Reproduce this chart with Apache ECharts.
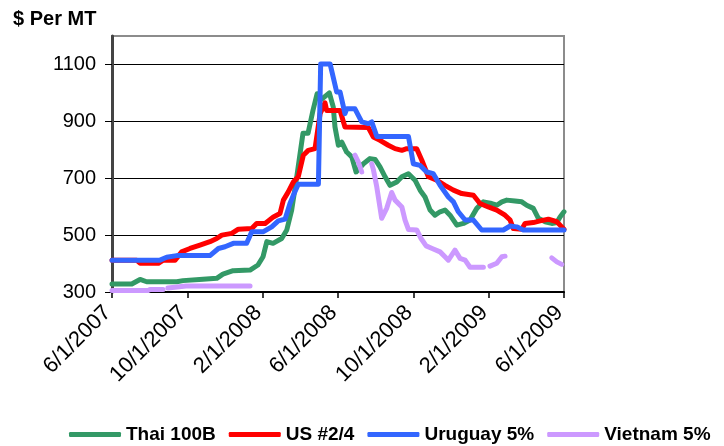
<!DOCTYPE html>
<html>
<head>
<meta charset="utf-8">
<script src="https://cdn.jsdelivr.net/npm/echarts@6/dist/echarts.min.js"></script>
<style>
  html, body { margin: 0; padding: 0; background: #fff; }
  #chart { width: 724px; height: 446px; }
</style>
</head>
<body>
<div id="chart"></div>
<script>
// x = months since 6/1/2007, y = $ per MT
var xLabels = ['6/1/2007', '10/1/2007', '2/1/2008', '6/1/2008', '10/1/2008', '2/1/2009', '6/1/2009'];
var yTicks = [300, 500, 700, 900, 1100];
var seriesNames = ['Thai 100B', 'US #2/4', 'Uruguay 5%', 'Vietnam 5%'];

var thai = [
  [0, 328], [1.05, 328], [1.49, 344], [1.84, 336], [3.44, 336], [3.77, 340], [4.83, 345],
  [5.56, 348], [5.89, 363], [6.43, 375], [7.33, 377], [7.75, 395], [8.02, 424], [8.22, 477],
  [8.55, 471], [9.01, 488], [9.28, 518], [9.54, 588], [9.81, 705], [10.14, 858], [10.41, 858],
  [10.67, 938], [10.89, 997], [11.14, 978], [11.54, 1000], [11.75, 950], [11.84, 880],
  [12.02, 816], [12.2, 827], [12.46, 792], [12.73, 775], [12.96, 722], [13.35, 751],
  [13.7, 769], [13.97, 766], [14.23, 740], [14.5, 705], [14.76, 675], [15.12, 687],
  [15.39, 705], [15.74, 716], [16.09, 693], [16.36, 658], [16.62, 634], [16.89, 588],
  [17.15, 570], [17.42, 582], [17.68, 588], [17.95, 570], [18.31, 535], [18.66, 541],
  [19.01, 553], [19.37, 594], [19.72, 617], [20.16, 611], [20.43, 605], [20.7, 617],
  [20.96, 623], [21.4, 620], [21.76, 617], [22.02, 605], [22.37, 594], [22.64, 559],
  [23.0, 547], [23.35, 541], [23.62, 544], [23.79, 564], [24, 582]
];

var us = [
  [0, 412], [1.31, 412], [1.49, 401], [2.46, 401], [2.72, 412], [3.35, 412], [3.7, 441],
  [4.14, 453], [4.67, 465], [5.2, 477], [5.56, 488], [5.83, 500], [6.36, 506], [6.71, 521],
  [7.42, 523], [7.68, 541], [8.13, 541], [8.57, 564], [8.92, 576], [9.1, 623], [9.36, 652],
  [9.63, 687], [9.89, 705], [10.16, 781], [10.42, 798], [10.78, 804], [11.05, 927],
  [11.31, 965], [11.4, 938], [12.11, 938], [12.37, 880], [13.61, 878], [13.88, 845],
  [14.23, 833], [14.67, 816], [15.03, 804], [15.39, 798], [15.65, 804], [16.18, 804],
  [16.45, 763], [16.8, 705], [17.24, 693], [17.68, 675], [18.13, 658], [18.57, 646],
  [19.19, 640], [19.54, 611], [19.98, 599], [20.43, 588], [20.87, 570], [21.14, 553],
  [21.31, 523], [21.76, 521], [21.93, 541], [22.37, 544], [22.73, 550], [23.17, 556],
  [23.62, 547], [23.88, 529], [24, 521]
];

var uruguay = [
  [0, 412], [2.55, 412], [2.9, 422], [3.44, 428], [5.2, 428], [5.65, 453], [6.0, 459],
  [6.44, 471], [7.15, 471], [7.42, 512], [8.04, 512], [8.48, 529], [8.83, 550], [9.19, 556],
  [9.45, 611], [9.63, 640], [9.89, 679], [10.96, 679], [11.08, 1102], [11.58, 1102],
  [11.93, 1003], [12.11, 1003], [12.37, 927], [12.46, 944], [12.9, 944], [13.26, 898],
  [13.61, 892], [13.79, 898], [14.06, 847], [15.74, 847], [16.0, 751], [16.36, 745],
  [16.71, 722], [17.06, 716], [17.42, 675], [17.86, 634], [18.13, 617], [18.39, 582],
  [18.75, 553], [19.19, 553], [19.63, 518], [20.78, 518], [21.14, 532], [21.49, 529],
  [21.84, 518], [24, 518]
];

var vietnam = [
  [0, 305], [1.91, 305], [2.02, 309], [2.71, 309], [2.84, '-'], [2.97, 314], [3.93, 321],
  [7.33, 321], [10, '-'], [12.9, 781], [13.08, 757], [13.26, 722], [13.5, '-'],
  [13.79, 751], [13.88, 730], [14.06, 669], [14.32, 559], [14.59, 595], [14.85, 650],
  [15.03, 623], [15.39, 599], [15.56, 553], [15.74, 520], [16.18, 518], [16.41, 488],
  [16.68, 462], [17.0, 453], [17.42, 441], [17.68, 424], [17.86, 412], [18.21, 447],
  [18.48, 418], [18.75, 412], [19.01, 387], [19.72, 387], [19.9, '-'], [20.07, 391],
  [20.43, 401], [20.7, 424], [20.87, 426], [22, '-'], [23.35, 420], [23.62, 406], [23.88, 397]
];

var colors = ['#339966', '#FF0000', '#3366FF', '#CC99FF'];
var fontFamily = '"Liberation Sans", Arial, sans-serif';

var chart = echarts.init(document.getElementById('chart'));

function lineSeries(name, data, color) {
  return {
    name: name,
    type: 'line',
    data: data,
    symbol: 'none',
    animation: false,
    lineStyle: { color: color, width: 5, cap: 'round', join: 'round' },
    itemStyle: { color: color }
  };
}

var option = {
  backgroundColor: '#fff',
  textStyle: { fontFamily: fontFamily },
  title: {
    text: '$ Per MT',
    left: 8,
    top: 4,
    textStyle: { fontSize: 20, fontWeight: 'bold', color: '#000', fontFamily: fontFamily }
  },
  legend: {
    data: seriesNames,
    left: 64,
    top: 420,
    width: 660,
    icon: 'roundRect',
    itemWidth: 52,
    itemHeight: 5,
    itemGap: 13,
    textStyle: { fontSize: 19, fontWeight: 'bold', color: '#000', fontFamily: fontFamily }
  },
  grid: {
    left: 112,
    right: 160,
    top: 36,
    bottom: 154,
    show: true,
    borderColor: '#8c8c8c',
    borderWidth: 2,
    containLabel: false
  },
  xAxis: {
    type: 'value',
    min: 0,
    max: 24,
    interval: 4,
    axisLine: { onZero: false, lineStyle: { color: '#000', width: 2 } },
    axisTick: { show: true, inside: false, length: 6, lineStyle: { color: '#000', width: 1.5 } },
    splitLine: { show: false },
    axisLabel: {
      rotate: 45,
      margin: 13,
      fontSize: 22,
      color: '#000',
      fontFamily: fontFamily,
      formatter: function (v) { return xLabels[Math.round(v / 4)] + ' '; }
    }
  },
  yAxis: {
    type: 'value',
    min: 300,
    max: 1200,
    interval: 200,
    axisLine: { show: true, lineStyle: { color: '#444', width: 3 } },
    axisTick: { show: true, inside: false, length: 7, customValues: yTicks, lineStyle: { color: '#000', width: 1 } },
    splitLine: { show: true, lineStyle: { color: '#000', width: 1.2 } },
    axisLabel: {
      customValues: yTicks,
      margin: 16,
      fontSize: 20,
      color: '#000',
      fontFamily: fontFamily,
      formatter: function (v) { return String(v); }
    }
  },
  series: [
    lineSeries(seriesNames[0], thai, colors[0]),
    lineSeries(seriesNames[1], us, colors[1]),
    lineSeries(seriesNames[2], uruguay, colors[2]),
    lineSeries(seriesNames[3], vietnam, colors[3])
  ]
};

chart.setOption(option);
</script>
</body>
</html>
